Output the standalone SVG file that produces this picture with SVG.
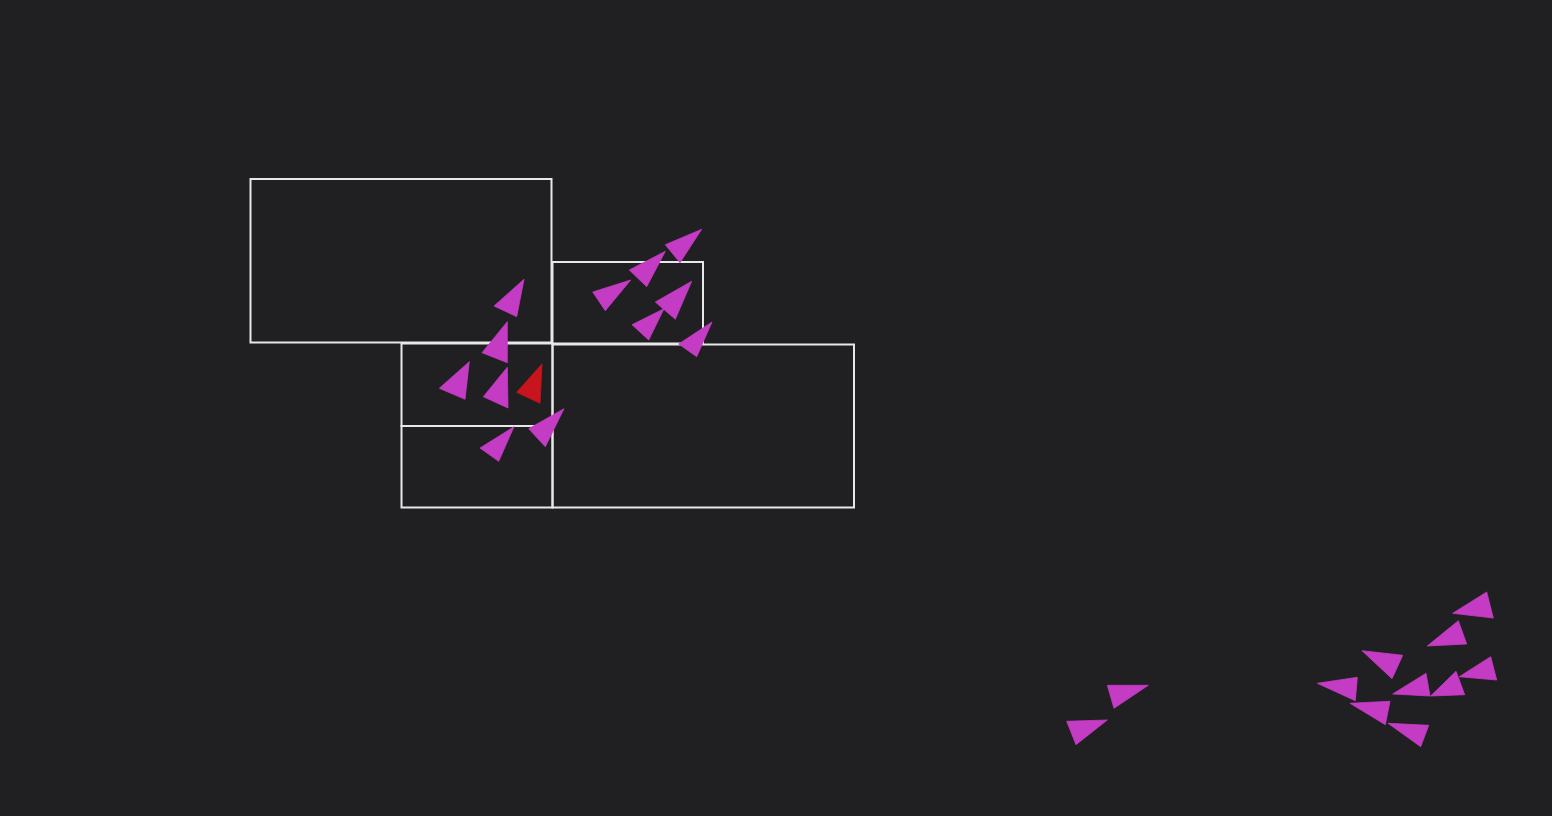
<svg xmlns="http://www.w3.org/2000/svg" width="1552" height="816" viewBox="0 0 1552 816">
<style>
.q{fill:none;stroke:#e8e8e8;stroke-width:2}
.b{fill:#c43cc4;stroke:#c43cc4;stroke-width:0.8;stroke-linejoin:miter}
.r{fill:#c8141c;stroke:#c8141c;stroke-width:0.8}
</style>
<rect x="0" y="0" width="1552" height="816" fill="#202022"/>
<g id="quadtree">
<rect class="q" x="250.5" y="179" width="301" height="163.5"/>
<rect class="q" x="552.5" y="262" width="150.5" height="81.5"/>
<rect class="q" x="552.5" y="344.5" width="301.5" height="163"/>
<rect class="q" x="401.5" y="343.5" width="151" height="82.5"/>
<rect class="q" x="401.5" y="426" width="151" height="81.5"/>
</g>
<g id="boids">
<polygon class="b" points="524,279.3 494,306 516.7,316.7"/>
<polygon class="b" points="507.3,321.7 482,352.7 507.3,362.7"/>
<polygon class="b" points="469.3,361.7 439.3,388.3 465,399.3"/>
<polygon class="b" points="507.3,367.3 483.3,396.7 508,408"/>
<polygon class="r" points="542,364 516.7,392.3 540,403.3"/>
<polygon class="b" points="564,408.7 528.7,428.7 545.3,446.7"/>
<polygon class="b" points="514,426.7 480,448 498.7,461.3"/>
<polygon class="b" points="701.7,229.3 665.3,244.7 680,262.7"/>
<polygon class="b" points="665.3,251.3 629.3,270 646.7,286.7"/>
<polygon class="b" points="630.7,280 592.7,292 605.3,310.7"/>
<polygon class="b" points="691.7,281.3 655.3,302 675.3,319.3"/>
<polygon class="b" points="664,308.7 632,324.7 648.7,340"/>
<polygon class="b" points="712,322 678.7,344 696.7,356.7"/>
<polygon class="b" points="1107.3,685.3 1148.3,685.3 1114,708.3"/>
<polygon class="b" points="1066.7,721.3 1107.3,720 1076,744.7"/>
<polygon class="b" points="1486.7,592 1452.7,613.3 1493.3,618"/>
<polygon class="b" points="1458.3,620.7 1427.3,646 1466.7,644"/>
<polygon class="b" points="1362,650.7 1402.7,655.3 1392,678.7"/>
<polygon class="b" points="1490.7,656.7 1459.3,676.7 1496.7,680"/>
<polygon class="b" points="1317.3,683.3 1357.3,677.3 1355.3,700.7"/>
<polygon class="b" points="1426,673.3 1392.7,694 1430,696"/>
<polygon class="b" points="1456,671.3 1430.7,696 1464.7,694.7"/>
<polygon class="b" points="1350,703.3 1390,701.3 1385.3,724.7"/>
<polygon class="b" points="1388,723.3 1428.7,725.3 1420.7,746.7"/>
</g>
</svg>
